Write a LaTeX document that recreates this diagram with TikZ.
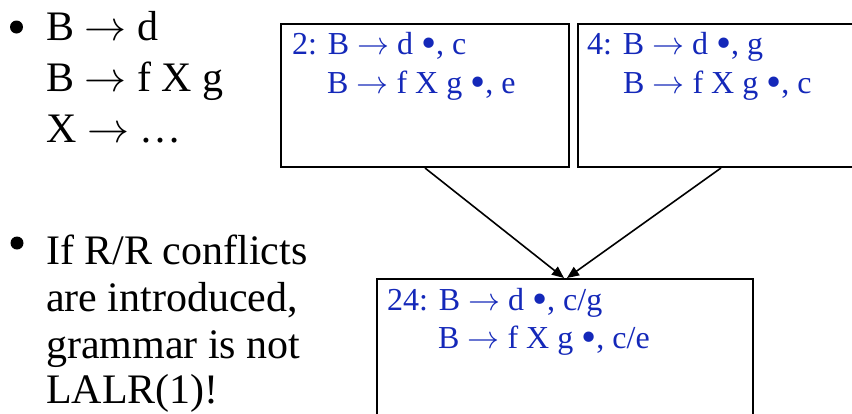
\documentclass[tikz,border=0pt]{standalone}
\usepackage{graphicx}
\usepackage{fontspec}
\setmainfont{Liberation Serif}
\usetikzlibrary{arrows.meta}
\definecolor{itemblue}{RGB}{20,40,185}
\newcommand\myarr{\resizebox{1em}{!}{$\rightarrow$}}
\newcommand\mydot{\raisebox{-0.12em}{\scalebox{1.35}{•}}}
\tikzset{
  box/.style={draw=black, line width=2pt, inner sep=0pt, anchor=north west},
  bigtxt/.style={anchor=base west, inner sep=0pt, font=\fontsize{42}{50}\selectfont},
  itemtxt/.style={anchor=base west, inner sep=0pt, text=itemblue, font=\fontsize{32}{38}\selectfont},
  bulletdot/.style={circle, fill=black, inner sep=0pt, minimum size=13pt},
  conn/.style={line width=1.6pt, -{Triangle[length=12pt,width=10pt]}}
}
\begin{document}
\begin{tikzpicture}[x=1pt,y=-1pt]
\useasboundingbox (0,0) rectangle (852,413);
\clip (0,0) rectangle (852,413);
% left text
\node[bulletdot] (bul1) at (16.5,27) {};
\node[bigtxt] (l1) at (46,40) {B \myarr\ d};
\node[bigtxt] (l2) at (46,91) {B \myarr\ f X g};
\node[bigtxt] (l3) at (46,142) {X \myarr\ …};
\node[bulletdot] (bul2) at (17,243) {};
\node[bigtxt] (l4) at (46,264) {If R/R conflicts};
\node[bigtxt] (l5) at (46,311) {are introduced,};
\node[bigtxt] (l6) at (46,358) {grammar is not};
\node[bigtxt] (l7) at (46,403) {LALR(1)!};
% boxes
\node[box, minimum width=288pt, minimum height=143pt] (b2) at (280,23) {};
\node[box, minimum width=286pt, minimum height=143pt] (b4) at (577,23) {};
\node[box, minimum width=376pt, minimum height=170pt] (b24) at (376,278) {};
% box texts
\node[itemtxt] (t2a) at (292,54) {2: B \myarr\ d \mydot, c};
\node[itemtxt] (t2b) at (327,93) {B \myarr\ f X g \mydot, e};
\node[itemtxt] (t4a) at (587,54) {4: B \myarr\ d \mydot, g};
\node[itemtxt] (t4b) at (623,93) {B \myarr\ f X g \mydot, c};
\node[itemtxt] (t24a) at (387,310) {24: B \myarr\ d \mydot, c/g};
\node[itemtxt] (t24b) at (438,348) {B \myarr\ f X g \mydot, c/e};
% connectors
\draw[conn] (b2.south) -- ([xshift=-1pt]b24.north);
\draw[conn] (b4.south) -- ([xshift=2pt]b24.north);
\end{tikzpicture}
\end{document}
